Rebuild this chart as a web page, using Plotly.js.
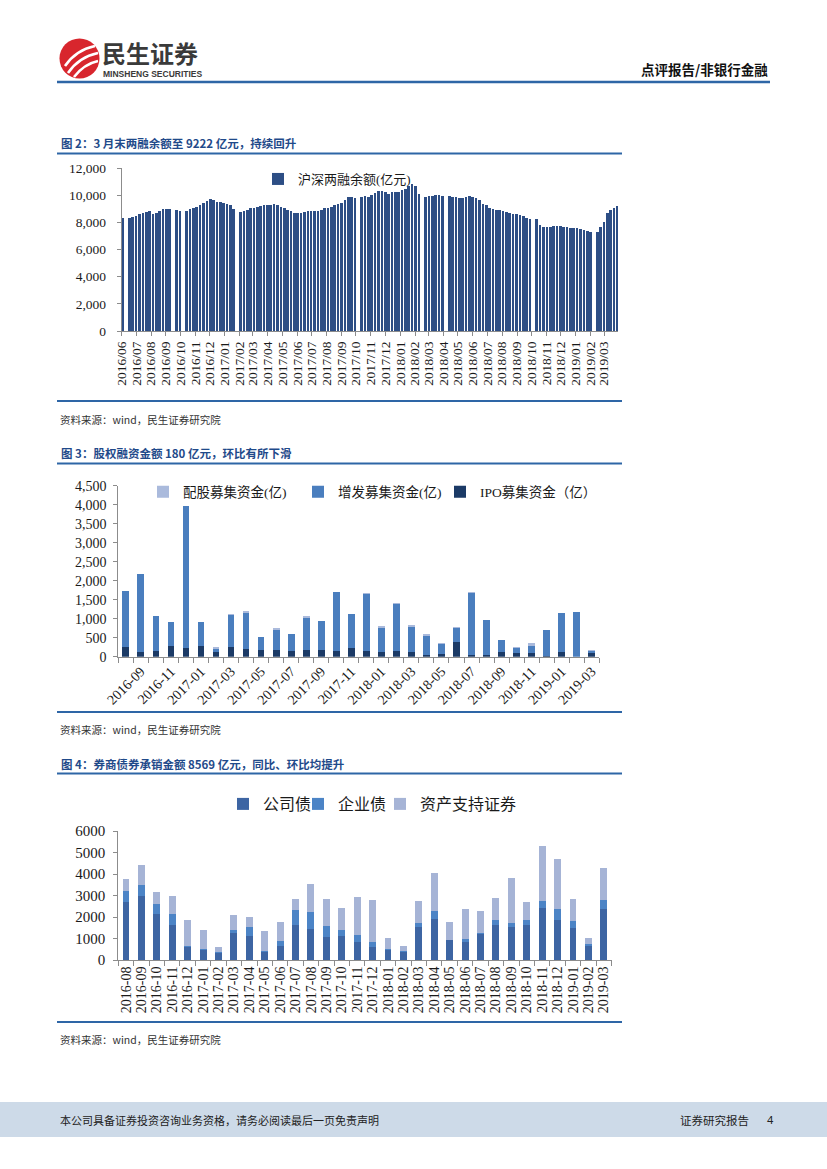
<!DOCTYPE html>
<html><head><meta charset="utf-8">
<script src="https://cdn.plot.ly/plotly-3.0.1.min.js"></script>
<style>html,body{margin:0;padding:0;background:#fff;} #page{width:827px;height:1169px;}</style>
</head><body><div id="page"></div>
<script>
// ---------- 图2 两融余额（周度，亿元） ----------
const marginDates = [
'2016-06-03','2016-06-17','2016-06-24',
'2016-07-01','2016-07-08','2016-07-15','2016-07-22','2016-07-29',
'2016-08-05','2016-08-12','2016-08-19','2016-08-26',
'2016-09-02','2016-09-09','2016-09-23','2016-09-30',
'2016-10-14','2016-10-21','2016-10-28',
'2016-11-04','2016-11-11','2016-11-18','2016-11-25',
'2016-12-02','2016-12-09','2016-12-16','2016-12-23','2016-12-30',
'2017-01-06','2017-01-13','2017-01-20',
'2017-02-03','2017-02-10','2017-02-17','2017-02-24',
'2017-03-03','2017-03-10','2017-03-17','2017-03-24','2017-03-31',
'2017-04-07','2017-04-14','2017-04-21','2017-04-28',
'2017-05-05','2017-05-12','2017-05-19','2017-05-26',
'2017-06-02','2017-06-09','2017-06-16','2017-06-23','2017-06-30',
'2017-07-07','2017-07-14','2017-07-21','2017-07-28',
'2017-08-04','2017-08-11','2017-08-18','2017-08-25',
'2017-09-01','2017-09-08','2017-09-15','2017-09-22','2017-09-29',
'2017-10-13','2017-10-20','2017-10-27',
'2017-11-03','2017-11-10','2017-11-17','2017-11-24',
'2017-12-01','2017-12-08','2017-12-15','2017-12-22','2017-12-29',
'2018-01-05','2018-01-12','2018-01-19','2018-01-26',
'2018-02-02','2018-02-09','2018-02-23',
'2018-03-02','2018-03-09','2018-03-16','2018-03-23','2018-03-30',
'2018-04-13','2018-04-20','2018-04-27',
'2018-05-04','2018-05-11','2018-05-18','2018-05-25',
'2018-06-01','2018-06-08','2018-06-15','2018-06-22','2018-06-29',
'2018-07-06','2018-07-13','2018-07-20','2018-07-27',
'2018-08-03','2018-08-10','2018-08-17','2018-08-24','2018-08-31',
'2018-09-07','2018-09-14','2018-09-21','2018-09-28',
'2018-10-12','2018-10-19','2018-10-26',
'2018-11-02','2018-11-09','2018-11-16','2018-11-23','2018-11-30',
'2018-12-07','2018-12-14','2018-12-21','2018-12-28',
'2019-01-04','2019-01-11','2019-01-18','2019-01-25',
'2019-02-01','2019-02-15','2019-02-22',
'2019-03-01','2019-03-08','2019-03-15','2019-03-22','2019-03-29'
];
const marginBalance = [
8350,8350,8370,
8470,8590,8670,8790,8840,
8620,8670,8860,8960,
8960,8990,8910,8860,
8860,8990,9090,
9140,9240,9410,9560,
9700,9650,9510,9480,9410,
9330,9260,8990,
8740,8840,8940,9040,
9060,9110,9190,9240,9260,
9240,9360,9260,9110,
9040,8910,8840,8720,
8690,8720,8770,8820,8820,
8860,8820,8910,9040,
9090,9160,9240,9320,
9410,9650,9850,9900,9780,
9900,9950,9900,
10030,10150,10320,10300,
10220,10100,10200,10220,10270,
10350,10470,10640,10790,
10690,10100,9900,
9930,9950,10000,9980,9950,
9930,9900,9830,
9780,9800,9850,9930,
9900,9800,9650,9330,9240,
9090,8990,8940,8910,
8860,8770,8720,8620,8590,
8540,8440,8350,8250,
8220,7800,7680,
7680,7680,7730,7750,7700,
7680,7650,7600,7560,
7560,7530,7460,7380,
7260,7280,7680,
8050,8670,8910,9040,9222
];

// ---------- 图3 股权融资（月度，亿元） ----------
const equityMonths = ['2016-08','2016-09','2016-10','2016-11','2016-12','2017-01','2017-02','2017-03','2017-04','2017-05','2017-06','2017-07','2017-08','2017-09','2017-10','2017-11','2017-12','2018-01','2018-02','2018-03','2018-04','2018-05','2018-06','2018-07','2018-08','2018-09','2018-10','2018-11','2018-12','2019-01','2019-02','2019-03'];
const ipoFunds       = [254,132,150,280,237,280,120,254,200,175,175,150,175,175,150,228,150,132,150,123,44,79,395,44,44,132,105,105,20,123,0,85];
const placementFunds = [1474,2043,920,640,3736,640,75,851,950,342,528,446,846,763,1550,903,1494,635,1241,666,492,256,352,1621,921,315,126,185,673,1026,1184,65];
const rightsFunds    = [0,0,0,0,0,0,50,15,60,0,60,0,40,0,10,0,40,40,30,35,60,25,25,45,0,0,15,70,0,0,0,30];

// ---------- 图4 券商债券承销（月度，亿元） ----------
const bondMonths = ['2016-08','2016-09','2016-10','2016-11','2016-12','2017-01','2017-02','2017-03','2017-04','2017-05','2017-06','2017-07','2017-08','2017-09','2017-10','2017-11','2017-12','2018-01','2018-02','2018-03','2018-04','2018-05','2018-06','2018-07','2018-08','2018-09','2018-10','2018-11','2018-12','2019-01','2019-02','2019-03'];
const corpBonds = [2680,2980,2140,1640,590,465,310,1240,1130,370,670,1610,1440,1085,1130,840,620,450,370,1550,1920,930,820,1220,1630,1550,1640,2420,1860,1500,635,2390];
const entBonds  = [530,520,460,510,60,35,60,140,400,30,200,700,790,495,280,310,230,50,30,170,360,15,170,40,230,170,220,320,510,300,110,400];
const absBonds  = [560,900,560,830,1230,880,230,710,470,930,900,530,1300,1240,990,1760,1940,520,270,1010,1750,805,1370,1020,1040,2080,840,2560,2310,1050,295,1470];

const W = 827, H = 1169;
const X = p => p / W, Y = p => 1 - p / H;
const SERIF = '"Liberation Serif","Times New Roman",serif';
const MIX = '"Liberation Serif","Noto Sans CJK SC",serif';
const CJK = '"Noto Sans CJK SC","Noto Sans",sans-serif';
const BLUE = '#2E66A6';
const AX = '#8c8c8c';
const TXT = '#1a1a1a';

const equityTickText = equityMonths.map((m, i) => i % 2 === 1 ? m : '');

const traces = [
  {type:'bar', x: marginDates, y: marginBalance, xaxis:'x', yaxis:'y', name:'沪深两融余额(亿元)',
   marker:{color:'#2D4E85', line:{width:0}}, width: 7*86400000*0.78, legend:'legend'},
  {type:'bar', x: equityMonths, y: ipoFunds, xaxis:'x2', yaxis:'y2', name:'IPO募集资金（亿）',
   marker:{color:'#1B3A66'}, legend:'legend4'},
  {type:'bar', x: equityMonths, y: placementFunds, xaxis:'x2', yaxis:'y2', name:'增发募集资金(亿)',
   marker:{color:'#4A7EBE'}, legend:'legend3'},
  {type:'bar', x: equityMonths, y: rightsFunds, xaxis:'x2', yaxis:'y2', name:'配股募集资金(亿)',
   marker:{color:'#AABADC'}, legend:'legend2'},
  {type:'bar', x: bondMonths, y: corpBonds, xaxis:'x3', yaxis:'y3', name:'公司债',
   marker:{color:'#3D65A3'}, legend:'legend5'},
  {type:'bar', x: bondMonths, y: entBonds, xaxis:'x3', yaxis:'y3', name:'企业债',
   marker:{color:'#4C84C6'}, legend:'legend6'},
  {type:'bar', x: bondMonths, y: absBonds, xaxis:'x3', yaxis:'y3', name:'资产支持证券',
   marker:{color:'#A6B4D6'}, legend:'legend7'}
];

const axBase = {showline:true, linecolor:AX, linewidth:1, showgrid:false, zeroline:false,
  ticks:'outside', tickcolor:AX, ticklen:4, fixedrange:true, automargin:false};

function ann(text, x, y, o) {
  o = o || {};
  return {text, x:X(x), y:Y(y), xref:'paper', yref:'paper', showarrow:false,
    xanchor:o.xa || 'left', yanchor:'middle',
    font:{family:o.family || CJK, size:o.size || 11, color:o.color || TXT}};
}
function hline(y, x0, x1, w, c) {
  return {type:'line', xref:'paper', yref:'paper', x0:X(x0), x1:X(x1), y0:Y(y), y1:Y(y),
    line:{color:c || BLUE, width:w}};
}
function leg(x, y, size) {
  return {x:X(x), y:Y(y), xanchor:'left', yanchor:'middle', orientation:'h',
    bgcolor:'rgba(0,0,0,0)', font:{family:MIX, size:size, color:TXT}};
}
const P = (x, y) => X(x) + ',' + Y(y);

const layout = {
  width: W, height: H, margin:{l:0, r:0, t:0, b:0},
  paper_bgcolor:'#ffffff', plot_bgcolor:'rgba(0,0,0,0)',
  barmode:'stack', bargap:0.55,
  font:{family:SERIF, color:TXT},
  xaxis: Object.assign({}, axBase, {domain:[X(121.7), X(618)], anchor:'y', type:'date',
    range:['2016-06-01','2019-03-30'], tick0:'2016-06-01', dtick:'M1', tickformat:'%Y/%m',
    tickangle:-90, tickfont:{family:SERIF, size:13.5, color:TXT}}),
  yaxis: Object.assign({}, axBase, {domain:[Y(331), Y(168)], anchor:'x', range:[0,12000],
    dtick:2000, tickformat:',d', ticklabelstandoff:8, tickfont:{family:SERIF, size:13.5, color:TXT}}),
  xaxis2: Object.assign({}, axBase, {domain:[X(118.3), X(599.3)], anchor:'y2', type:'category',
    tickmode:'array', tickvals:equityMonths, ticktext:equityTickText, tickson:'boundaries',
    ticklen:5, tickangle:-45, tickfont:{family:SERIF, size:14, color:TXT}}),
  yaxis2: Object.assign({}, axBase, {domain:[Y(656.7), Y(485.7)], anchor:'x2', range:[0,4500],
    dtick:500, tickformat:',d', ticklabelstandoff:4, tickfont:{family:SERIF, size:14, color:TXT}}),
  xaxis3: Object.assign({}, axBase, {domain:[X(118.3), X(611.5)], anchor:'y3', type:'category',
    tickmode:'array', tickvals:bondMonths, ticktext:bondMonths,
    tickson:'boundaries', ticklen:5, tickangle:-90, tickfont:{family:SERIF, size:14, color:TXT}}),
  yaxis3: Object.assign({}, axBase, {domain:[Y(960), Y(831)], anchor:'x3', range:[0,6000],
    dtick:1000, tickformat:'d', ticklabelstandoff:5, tickfont:{family:SERIF, size:15, color:TXT}}),
  showlegend:true,
  legend:  leg(258, 179, 13),
  legend2: leg(143, 492, 13.5),
  legend3: leg(298, 492, 13.5),
  legend4: leg(440, 492, 13.5),
  legend5: leg(223, 804, 16),
  legend6: leg(298, 804, 16),
  legend7: leg(380, 804, 16),
  shapes: [
    {type:'rect', xref:'paper', yref:'paper', x0:0, x1:1, y0:Y(1137), y1:Y(1102),
     fillcolor:'#CDDAE8', line:{width:0}, layer:'below'},
    {type:'circle', xref:'paper', yref:'paper', x0:X(59.5), x1:X(99.5), y0:Y(78.5), y1:Y(38.5),
     fillcolor:'#D8262D', line:{width:0}},
    {type:'path', xref:'paper', yref:'paper', path:'M'+P(65,66)+' Q'+P(76,50)+' '+P(95,46), line:{color:'#ffffff', width:2.6}},
    {type:'path', xref:'paper', yref:'paper', path:'M'+P(68,73)+' Q'+P(79,57)+' '+P(98,53), line:{color:'#ffffff', width:2.6}},
    {type:'path', xref:'paper', yref:'paper', path:'M'+P(74,77)+' Q'+P(84,64)+' '+P(98,61), line:{color:'#ffffff', width:2.6}},
    hline(82, 57, 770, 2.5),
    hline(153.5, 57, 622, 2), hline(401, 57, 622, 2),
    hline(463.5, 57, 622, 2), hline(712, 57, 622, 2),
    hline(773.5, 57, 622, 2), hline(1022, 57, 622, 2)
  ],
  annotations: [
    ann('<b>民生证券</b>', 100, 52, {size:24, color:'#3A3A3A'}),
    ann('<b>MINSHENG SECURITIES</b>', 101, 73.5, {size:8.5, color:'#3A3A3A', family:'"Liberation Sans Narrow","Liberation Sans",sans-serif'}),
    ann('<b>点评报告/非银行金融</b>', 770, 69, {size:13.5, color:'#111', xa:'right'}),
    ann('<b>图 2：3 月末两融余额至 9222 亿元，持续回升</b>', 59, 143, {size:11.5, color:'#1F4A8A'}),
    ann('资料来源：wind，民生证券研究院', 58, 419, {size:10.5, color:'#333'}),
    ann('<b>图 3：股权融资金额 180 亿元，环比有所下滑</b>', 59, 453, {size:11.5, color:'#1F4A8A'}),
    ann('资料来源：wind，民生证券研究院', 58, 729, {size:10.5, color:'#333'}),
    ann('<b>图 4：券商债券承销金额 8569 亿元，同比、环比均提升</b>', 59, 764, {size:11.5, color:'#1F4A8A'}),
    ann('资料来源：wind，民生证券研究院', 58, 1039, {size:10.5, color:'#333'}),
    ann('本公司具备证券投资咨询业务资格，请务必阅读最后一页免责声明', 58, 1120, {size:11, color:'#222'}),
    ann('证券研究报告', 678, 1120, {size:11.5, color:'#222'}),
    ann('4', 765, 1120, {size:11.5, color:'#222', family:'"Liberation Sans",sans-serif'})
  ]
};

Plotly.newPlot('page', traces, layout, {displayModeBar:false, staticPlot:true});
</script>
</body></html>
